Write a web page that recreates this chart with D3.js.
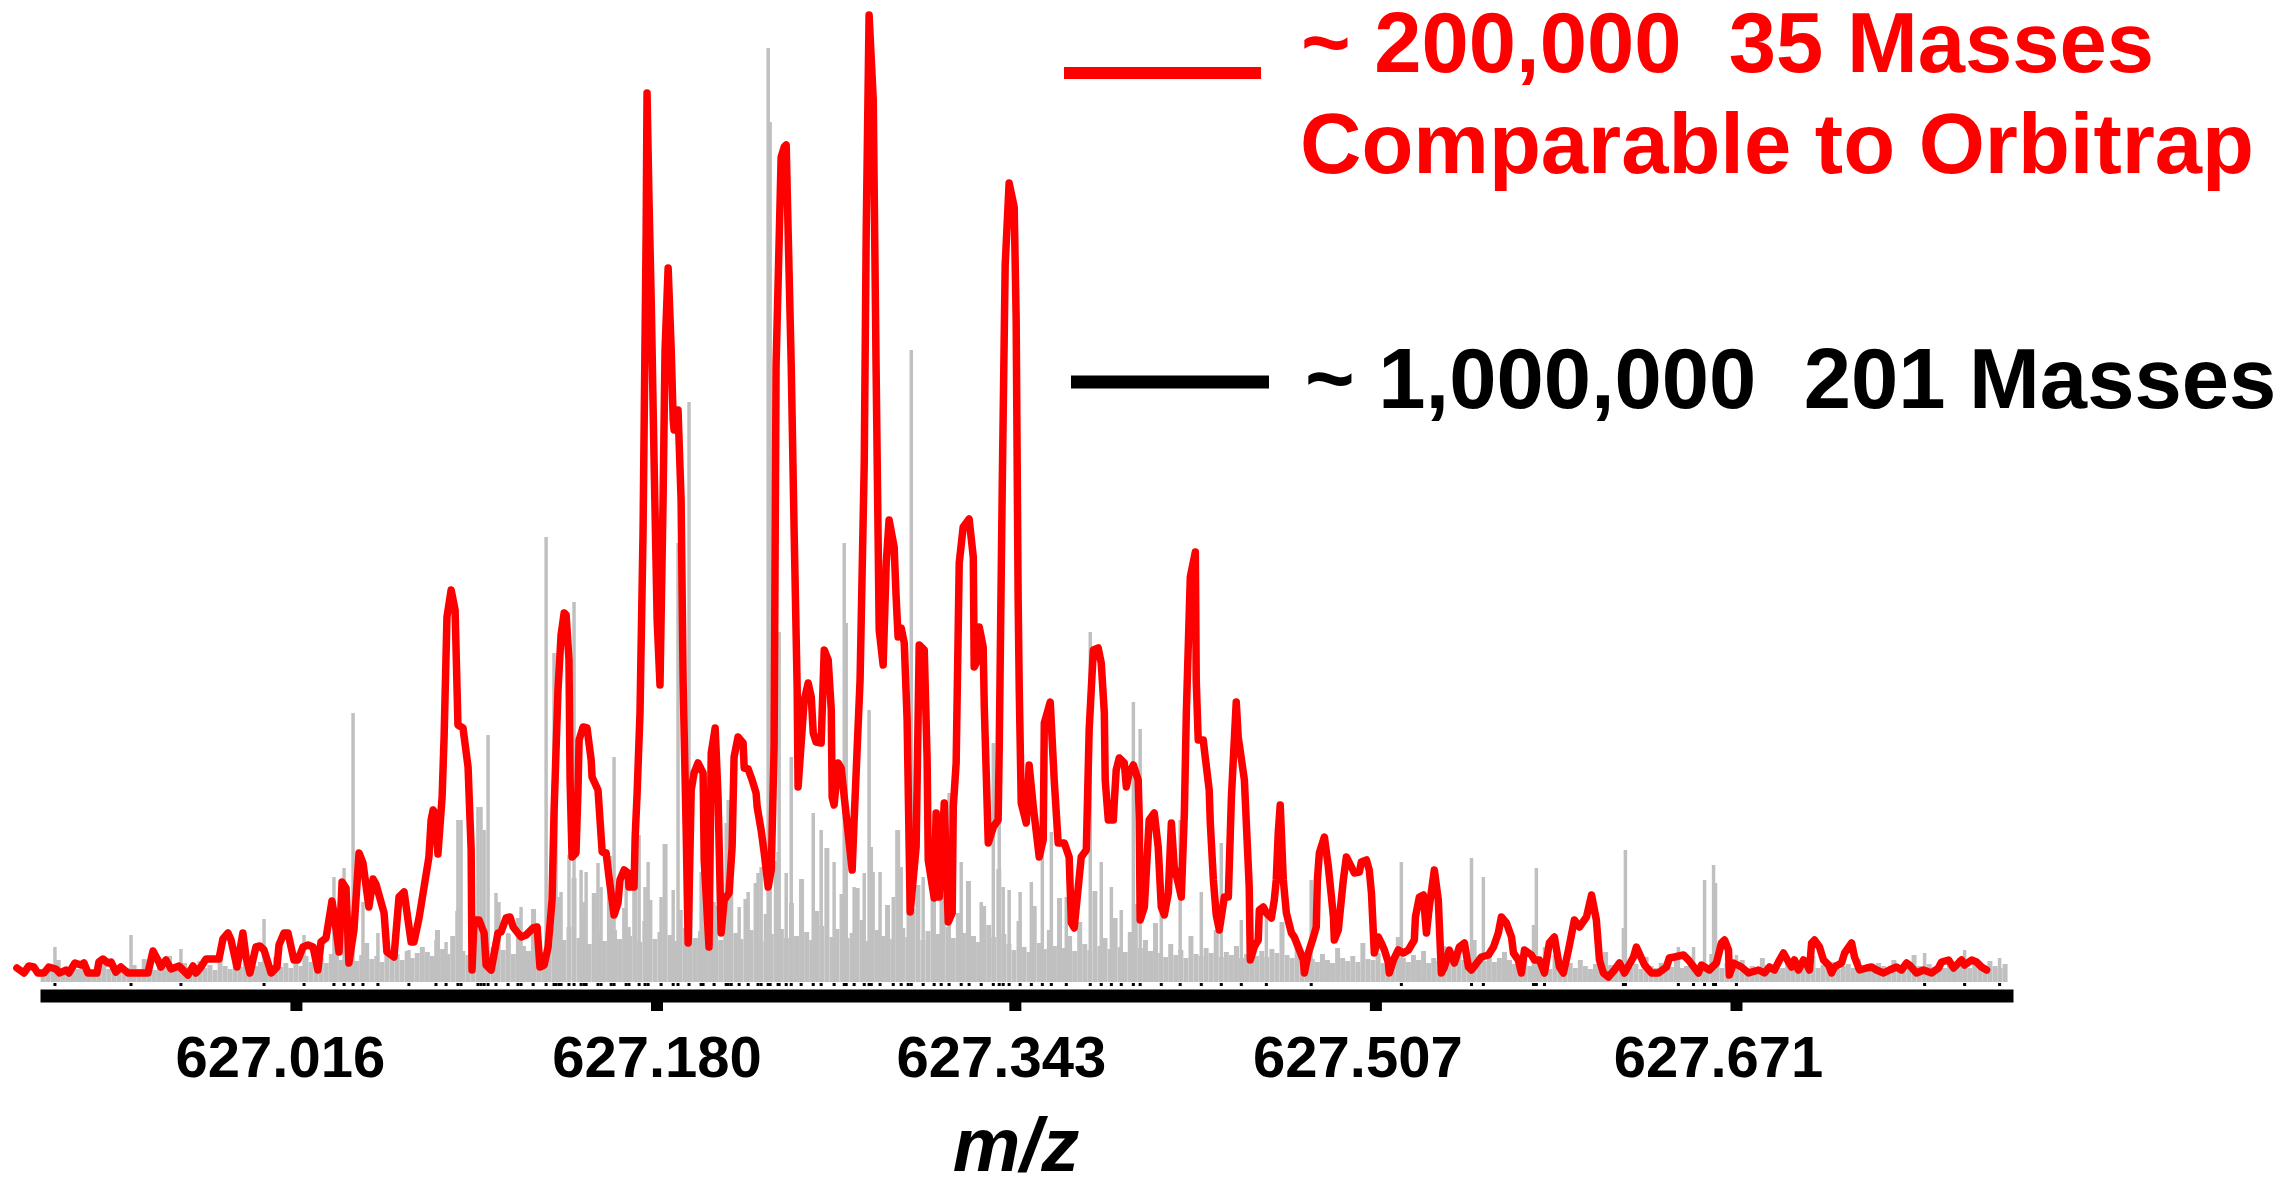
<!DOCTYPE html>
<html>
<head>
<meta charset="utf-8">
<script src="https://cdn.jsdelivr.net/npm/d3@7"></script>
<style>
  html, body { margin: 0; padding: 0; background: #fff; }
  svg { display: block; }
  text { font-family: "Liberation Sans", Arial, sans-serif; font-weight: bold; }
</style>
</head>
<body>
<svg id="chart"></svg>
<script>
// tick labels on the m/z axis
const tickValues = [627.016, 627.180, 627.343, 627.507, 627.671];

// ~200,000 resolution trace: [m/z, relative intensity]
const redTrace = [
  [626.8891,1.4],[626.8923,0.9],[626.8945,1.6],[626.8968,1.5],[626.8986,0.9],[626.9014,0.9],[626.9036,1.5],[626.9068,1.3],[626.9086,0.9],[626.9114,1.2],
  [626.9127,0.9],[626.9155,1.9],[626.9182,1.7],[626.9196,1.9],[626.9214,0.9],[626.9255,0.9],[626.9264,2.0],[626.9282,2.3],[626.9305,1.9],[626.9319,2.0],
  [626.9341,1.0],[626.9364,1.5],[626.9396,0.9],[626.9487,0.9],[626.9510,3.1],[626.9532,2.2],[626.9546,1.5],[626.9569,2.2],[626.9592,1.3],[626.9628,1.6],
  [626.9646,1.2],[626.9669,0.7],[626.9692,1.6],[626.9705,0.9],[626.9728,1.5],[626.9751,2.3],[626.9810,2.3],[626.9828,4.3],[626.9851,4.9],[626.9865,4.2],
  [626.9892,1.5],[626.9919,4.9],[626.9933,2.5],[626.9951,0.9],[626.9978,3.5],[626.9996,3.6],[627.0015,3.2],[627.0047,0.9],[627.0074,1.5],[627.0083,3.7],
  [627.0106,4.9],[627.0124,4.9],[627.0151,2.2],[627.0169,2.2],[627.0192,3.5],[627.0215,3.7],[627.0238,3.5],[627.0260,1.2],[627.0274,4.0],[627.0297,4.4],
  [627.0324,8.1],[627.0333,6.9],[627.0356,3.0],[627.0370,10.0],[627.0388,9.4],[627.0401,1.9],[627.0424,5.2],[627.0447,12.9],[627.0465,11.9],[627.0492,7.5],
  [627.0511,10.3],[627.0524,9.8],[627.0561,6.9],[627.0574,3.0],[627.0606,2.5],[627.0629,8.5],[627.0652,9.0],[627.0684,4.0],[627.0697,4.0],[627.0720,6.4],
  [627.0765,12.5],[627.0775,16.2],[627.0784,17.2],[627.0793,16.9],[627.0806,12.8],[627.0825,18.5],[627.0834,24.5],[627.0847,36.5],[627.0866,39.2],[627.0884,37.2],
  [627.0897,25.7],[627.0920,25.4],[627.0943,21.5],[627.0957,13.2],[627.0961,1.2],[627.0970,6.2],[627.0993,6.2],[627.1016,4.9],[627.1025,1.7],[627.1048,1.2],
  [627.1079,4.9],[627.1093,5.0],[627.1116,6.4],[627.1134,6.5],[627.1148,5.5],[627.1184,4.5],[627.1207,4.7],[627.1239,5.4],[627.1257,5.5],[627.1270,1.5],
  [627.1289,1.7],[627.1307,3.5],[627.1325,8.2],[627.1334,16.9],[627.1352,29.2],[627.1366,34.7],[627.1380,36.9],[627.1389,36.7],[627.1402,32.2],[627.1407,20.2],
  [627.1416,12.5],[627.1434,12.9],[627.1443,19.2],[627.1448,24.2],[627.1466,25.5],[627.1484,25.4],[627.1503,22.2],[627.1507,20.5],[627.1534,19.2],[627.1553,13.0],
  [627.1571,12.9],[627.1584,10.5],[627.1607,6.7],[627.1625,7.9],[627.1634,10.2],[627.1653,11.2],[627.1671,10.9],[627.1675,9.5],[627.1698,9.5],[627.1703,14.5],
  [627.1712,18.9],[627.1725,26.9],[627.1739,45.2],[627.1753,74.9],[627.1757,88.9],[627.1766,78.2],[627.1776,68.2],[627.1789,52.2],[627.1803,36.2],[627.1816,29.7],
  [627.1830,48.2],[627.1839,63.2],[627.1853,71.4],[627.1867,63.2],[627.1876,56.2],[627.1880,55.2],[627.1898,57.2],[627.1912,48.2],[627.1921,30.2],[627.1935,15.2],
  [627.1944,3.9],[627.1958,19.2],[627.1971,20.9],[627.1989,21.9],[627.2012,20.9],[627.2017,12.2],[627.2039,3.5],[627.2049,22.9],[627.2067,25.4],[627.2080,18.5],
  [627.2094,4.9],[627.2108,8.2],[627.2130,8.9],[627.2144,13.5],[627.2153,22.5],[627.2171,24.5],[627.2194,23.9],[627.2199,21.4],[627.2217,21.3],[627.2235,20.2],
  [627.2253,18.9],[627.2258,17.5],[627.2276,15.2],[627.2290,12.9],[627.2308,9.5],[627.2322,11.2],[627.2335,23.5],[627.2344,61.7],[627.2358,74.2],[627.2367,82.5],
  [627.2381,83.5],[627.2390,83.7],[627.2399,74.9],[627.2413,61.5],[627.2426,45.2],[627.2440,29.2],[627.2444,19.5],[627.2472,28.2],[627.2490,29.9],[627.2504,28.5],
  [627.2513,24.9],[627.2526,24.0],[627.2549,23.9],[627.2563,33.2],[627.2581,32.2],[627.2595,27.2],[627.2599,18.5],[627.2608,17.7],[627.2626,21.9],[627.2640,21.4],
  [627.2654,18.5],[627.2690,11.2],[627.2699,16.2],[627.2726,30.2],[627.2745,51.9],[627.2754,75.2],[627.2767,96.7],[627.2786,88.2],[627.2799,61.2],[627.2813,35.2],
  [627.2831,31.7],[627.2845,41.9],[627.2858,46.2],[627.2881,43.5],[627.2890,38.5],[627.2899,34.5],[627.2913,35.4],[627.2927,33.9],[627.2940,26.2],[627.2954,7.0],
  [627.2981,13.5],[627.2995,33.7],[627.3018,33.2],[627.3031,22.2],[627.3036,12.2],[627.3063,8.4],[627.3072,16.9],[627.3086,8.5],[627.3109,17.9],[627.3127,6.0],
  [627.3145,6.9],[627.3150,17.5],[627.3163,21.9],[627.3177,41.9],[627.3195,45.5],[627.3222,46.3],[627.3241,42.5],[627.3245,31.5],[627.3254,31.9],[627.3268,35.5],
  [627.3286,33.5],[627.3291,27.5],[627.3309,13.9],[627.3332,15.5],[627.3354,16.2],[627.3359,23.5],[627.3373,50.2],[627.3386,71.7],[627.3404,79.9],[627.3427,77.5],
  [627.3436,66.2],[627.3445,38.2],[627.3450,29.2],[627.3459,17.9],[627.3482,15.9],[627.3495,21.7],[627.3514,17.5],[627.3541,12.5],[627.3559,14.2],[627.3564,25.9],
  [627.3591,28.0],[627.3609,20.2],[627.3627,13.9],[627.3655,13.9],[627.3677,12.5],[627.3687,5.9],[627.3700,5.4],[627.3732,12.5],[627.3755,13.2],[627.3768,25.2],
  [627.3787,33.2],[627.3809,33.4],[627.3823,31.9],[627.3837,26.9],[627.3841,20.2],[627.3855,16.2],[627.3878,16.2],[627.3882,17.9],[627.3891,21.2],[627.3905,22.4],
  [627.3928,21.9],[627.3937,19.5],[627.3950,20.9],[627.3969,21.7],[627.3991,20.2],[627.3996,16.2],[627.4000,6.2],[627.4019,7.5],[627.4041,16.2],[627.4064,16.9],
  [627.4082,13.5],[627.4096,7.5],[627.4110,6.7],[627.4128,8.9],[627.4142,15.9],[627.4155,11.5],[627.4173,9.9],[627.4187,8.5],[627.4201,16.9],[627.4210,26.9],
  [627.4228,40.5],[627.4251,43.0],[627.4255,30.2],[627.4264,24.2],[627.4287,24.2],[627.4292,23.2],[627.4314,19.2],[627.4319,15.9],[627.4333,10.2],[627.4346,6.7],
  [627.4360,5.2],[627.4383,8.5],[627.4401,8.5],[627.4415,18.5],[627.4437,28.0],[627.4446,24.5],[627.4474,20.2],[627.4496,9.5],[627.4501,2.2],[627.4519,3.5],
  [627.4537,4.2],[627.4542,7.2],[627.4560,7.5],[627.4574,6.9],[627.4597,6.4],[627.4610,8.2],[627.4619,10.2],[627.4628,14.9],[627.4637,17.7],[627.4651,10.2],
  [627.4665,6.9],[627.4688,4.9],[627.4701,4.5],[627.4719,3.5],[627.4742,2.2],[627.4747,0.9],[627.4765,2.9],[627.4788,4.5],[627.4801,5.5],[627.4806,10.2],
  [627.4815,12.9],[627.4838,14.5],[627.4856,11.5],[627.4870,8.5],[627.4879,6.5],[627.4883,4.2],[627.4901,5.2],[627.4924,10.2],[627.4938,12.5],[627.4961,11.5],
  [627.4974,10.9],[627.4997,11.0],[627.5006,12.0],[627.5029,12.2],[627.5042,11.2],[627.5052,8.9],[627.5065,2.9],[627.5083,4.5],[627.5097,3.9],[627.5111,3.2],
  [627.5129,1.9],[627.5133,0.9],[627.5152,2.2],[627.5174,3.2],[627.5197,2.9],[627.5220,3.2],[627.5247,4.2],[627.5252,6.5],[627.5270,8.5],[627.5288,8.7],
  [627.5302,4.9],[627.5315,7.5],[627.5338,11.2],[627.5356,8.2],[627.5370,0.9],[627.5384,1.5],[627.5406,3.2],[627.5429,1.9],[627.5452,3.5],[627.5475,3.9],
  [627.5493,1.5],[627.5507,1.2],[627.5552,2.5],[627.5584,2.7],[627.5607,3.5],[627.5629,4.9],[627.5643,6.5],[627.5666,5.9],[627.5689,4.5],[627.5698,2.9],
  [627.5720,2.2],[627.5734,0.9],[627.5748,3.2],[627.5780,2.7],[627.5793,2.2],[627.5816,2.2],[627.5839,0.9],[627.5861,3.9],[627.5884,4.5],[627.5907,1.5],
  [627.5925,0.9],[627.5948,3.2],[627.5975,6.2],[627.5998,5.5],[627.6030,6.5],[627.6053,8.7],[627.6075,6.2],[627.6089,2.2],[627.6107,0.9],[627.6130,0.5],
  [627.6157,1.2],[627.6180,1.9],[627.6203,0.9],[627.6244,2.5],[627.6257,3.5],[627.6294,1.7],[627.6326,0.9],[627.6357,0.9],[627.6394,1.5],[627.6407,2.4],
  [627.6430,2.5],[627.6471,2.7],[627.6494,2.2],[627.6539,0.9],[627.6553,1.7],[627.6589,1.2],[627.6621,1.9],[627.6644,3.9],[627.6658,4.2],[627.6676,3.2],
  [627.6680,0.7],[627.6699,1.9],[627.6735,1.5],[627.6767,0.9],[627.6812,1.2],[627.6840,0.9],[627.6862,1.5],[627.6885,1.2],[627.6908,2.2],[627.6926,2.9],
  [627.6949,2.0],[627.6963,1.5],[627.6976,2.2],[627.6994,1.2],[627.7017,2.2],[627.7031,1.9],[627.7044,1.2],[627.7054,3.9],[627.7067,4.2],[627.7090,3.5],
  [627.7108,2.2],[627.7131,1.7],[627.7145,0.9],[627.7158,1.5],[627.7190,1.9],[627.7204,2.9],[627.7236,3.9],[627.7249,2.5],[627.7272,1.2],[627.7304,1.4],
  [627.7327,1.5],[627.7349,1.2],[627.7381,0.9],[627.7408,1.2],[627.7440,1.5],[627.7463,1.2],[627.7486,1.9],[627.7499,1.7],[627.7531,0.9],[627.7563,1.2],
  [627.7600,0.9],[627.7631,1.4],[627.7645,2.0],[627.7677,2.2],[627.7700,1.4],[627.7722,1.9],[627.7736,2.2],[627.7750,1.7],[627.7782,2.2],[627.7804,2.0],
  [627.7827,1.5],[627.7850,1.2]
];

// ~1,000,000 resolution trace, dense baseline sampled every 0.0023 from 626.901
const grayStart = 626.901;
const grayStep = 0.0023;
const grayFloor = [
  1.2,1.5,1.1,2.2,1.4,1.0,1.6,1.3,1.8,1.2,1.0,1.5,1.9,1.3,1.1,1.6,1.2,1.4,
  1.7,1.3,2.3,1.5,1.2,1.8,1.4,2.6,1.6,1.1,1.9,1.5,1.3,2.1,1.4,1.7,1.2,2.4,1.6,1.3,1.8,1.5,2.2,1.4,1.6,2.0,1.3,1.7,2.5,1.5,1.9,1.4,2.2,1.6,
  2.6,2.0,3.2,2.4,1.9,2.8,3.6,2.2,2.5,3.0,2.1,2.7,3.9,2.3,2.6,2.0,3.3,2.5,2.8,2.2,3.1,2.4,2.9,3.5,
  3.0,2.6,5.2,3.3,2.8,4.6,7.1,3.1,2.7,5.9,3.4,6.6,2.9,3.5,8.0,3.2,4.8,2.8,6.4,3.6,3.1,7.3,3.7,3.0,
  4.6,3.9,7.8,4.2,5.5,10.4,4.4,6.3,3.8,8.9,4.9,4.1,12.6,5.2,4.3,7.4,4.6,9.8,4.0,6.1,
  8.2,4.3,5.0,13.8,4.7,4.1,7.2,5.4,9.5,4.4,5.1,11.2,4.5,7.6,4.2,6.0,14.5,4.9,4.3,8.3,
  5.2,9.9,4.1,6.8,4.8,12.1,5.3,4.4,7.9,4.6,10.3,5.0,4.2,7.1,5.6,13.4,4.5,5.3,8.8,4.4,
  4.9,9.4,6.2,4.1,11.0,5.2,4.6,7.7,4.3,15.2,5.4,4.5,7.3,9.7,4.2,5.1,8.5,4.8,12.4,5.5,
  4.4,6.9,4.9,10.1,4.6,4.0,7.6,5.7,4.5,11.3,4.8,
  3.8,3.2,6.1,3.5,3.0,7.6,3.9,3.3,5.2,3.6,8.4,3.4,4.6,3.1,6.0,3.8,3.2,9.1,3.6,4.4,3.3,6.4,3.5,3.0,5.0,7.8,3.4,4.2,3.1,5.9,
  2.9,2.5,3.8,2.7,3.2,2.4,4.6,2.8,2.6,3.4,2.9,5.2,2.5,3.0,2.7,3.6,2.4,2.8,4.1,2.6,3.1,2.5,3.3,2.9,6.0,2.7,2.4,3.5,2.8,3.0,
  2.3,2.0,2.8,2.2,1.9,3.4,2.4,2.1,2.6,2.0,3.9,2.3,2.2,2.9,1.9,2.5,2.1,4.5,2.4,2.0,2.7,2.2,3.1,1.9,2.4,2.1,3.6,2.3,2.0,2.6,2.2,1.9,4.2,2.5,2.1,2.8,2.0,2.4,3.0,2.2,
  1.8,1.5,2.4,1.6,1.4,2.0,1.7,1.3,2.7,1.6,1.5,1.9,1.4,2.2,1.6,1.3,1.8,1.5,3.0,1.7,
  1.4,2.1,1.6,1.5,1.8,1.3,2.5,1.6,1.4,1.9,1.7,1.5,2.3,1.4,1.6,2.0,1.3,1.8,1.5,2.8,
  1.6,1.4,1.9,1.5,1.7,2.2,1.4,1.6,1.3,2.4,1.7,1.5,1.8,1.4,2.1,1.6,1.3,1.9,1.5,2.6,
  1.4,1.7,1.5,2.0,1.3,1.6,1.8,1.4,2.3,1.5,1.7,1.4,1.9,1.6,1.3,2.2,1.5,1.7,1.4,2.7,
  1.6,1.3,1.8,1.5,2.0,1.4,1.7,1.5,2.4,1.6,1.4,1.9,1.5,1.3,2.1,1.6,1.4,1.8
];

// taller sticks of the ~1,000,000 trace: [m/z, relative intensity]
const grayPeaks = [
  [626.9064,3.5],[626.9410,4.7],[626.9637,3.3],[627.0015,6.3],[627.0197,4.7],[627.0333,10.5],[627.0379,11.4],[627.0420,26.9],[627.0465,8.0],[627.0533,4.9],
  [627.0674,3.2],[627.0797,4.2],[627.0843,4.0],[627.0897,16.2],[627.0911,16.2],[627.0988,17.5],[627.1002,17.5],[627.1016,15.2],[627.1034,24.7],[627.1070,8.9],
  [627.1125,4.9],[627.1170,4.5],[627.1239,6.2],[627.1298,44.5],[627.1334,32.9],[627.1343,17.5],[627.1357,8.5],[627.1402,12.7],[627.1425,38.0],[627.1457,11.2],
  [627.1480,11.0],[627.1534,11.9],[627.1607,22.5],[627.1675,5.5],[627.1721,14.7],[627.1748,9.5],[627.1762,12.0],[627.1876,9.2],[627.1898,43.9],[627.1948,58.0],
  [627.2012,7.2],[627.2117,15.9],[627.2126,18.2],[627.2176,7.5],[627.2262,10.9],[627.2308,93.4],[627.2317,86.0],[627.2358,35.0],[627.2390,10.9],[627.2413,22.5],
  [627.2513,16.9],[627.2549,15.2],[627.2654,43.9],[627.2663,35.9],[627.2745,10.9],[627.2767,27.2],[627.2817,11.0],[627.2913,11.5],[627.2959,63.2],[627.3013,10.5],
  [627.3095,10.5],[627.3131,18.9],[627.3222,5.7],[627.3332,23.9],[627.3359,16.5],[627.3377,9.5],[627.3404,9.2],[627.3454,9.0],[627.3555,12.9],[627.3596,15.0],
  [627.3773,35.0],[627.3823,12.0],[627.3914,7.2],[627.3969,28.0],[627.4000,25.3],[627.4182,16.2],[627.4369,13.9],[627.4460,6.2],[627.4778,10.2],[627.5188,12.0],
  [627.5507,12.4],[627.5561,10.5],[627.5789,5.7],[627.5802,11.4],[627.5839,3.5],[627.6198,5.4],[627.6207,13.2],[627.6448,3.5],[627.6517,3.5],[627.6567,10.2],
  [627.6608,11.7],[627.6617,9.9],[627.6712,2.7],[627.7568,2.9],[627.7750,3.2],[627.7909,2.4],
  [627.1184,7.5],[627.1366,9.0],[627.1471,8.0],[627.1548,9.5],[627.1594,7.0],[627.1662,10.5],[627.1821,8.5],[627.2003,11.0],[627.2062,8.0],[627.2140,12.5],
  [627.2217,9.0],[627.2276,11.5],[627.2353,13.0],[627.2458,10.0],[627.2608,12.0],[627.2699,9.5],[627.2777,13.5],[627.2877,8.5],[627.2945,11.0],[627.3063,9.0],
  [627.3186,12.0],[627.3277,8.0],[627.3505,10.0],[627.3664,8.5],[627.3869,9.5],[627.4096,8.0],[627.4278,9.0],[627.4574,7.5]
];

const W = 2277, H = 1178;
const svg = d3.select('#chart').attr('width', W).attr('height', H);
svg.append('rect').attr('width', W).attr('height', H).attr('fill', '#fff');

const x = d3.scaleLinear().domain([626.8996, 627.797]).range([40, 2013]);
const y = d3.scaleLinear().domain([0, 100]).range([982, -18]);

const grayData = grayFloor.map((v, i) => [grayStart + i * grayStep, v]);

// gray baseline forest
svg.append('g')
  .selectAll('line')
  .data(grayData)
  .join('line')
  .attr('x1', d => x(d[0]))
  .attr('x2', d => x(d[0]))
  .attr('y1', y(0))
  .attr('y2', d => y(d[1]))
  .attr('stroke', '#c0c0c0')
  .attr('stroke-width', 5);

svg.append('g')
  .selectAll('line')
  .data(grayPeaks)
  .join('line')
  .attr('x1', d => x(d[0]))
  .attr('x2', d => x(d[0]))
  .attr('y1', y(0))
  .attr('y2', d => y(d[1]))
  .attr('stroke', '#c0c0c0')
  .attr('stroke-width', 3.5);

// centroid specks of the high resolution trace
svg.append('g')
  .selectAll('rect')
  .data(grayPeaks)
  .join('rect')
  .attr('x', d => x(d[0]) - 1.5)
  .attr('y', y(0) + 1)
  .attr('width', 3)
  .attr('height', 3)
  .attr('fill', '#000');

// red trace
const line = d3.line().x(d => x(d[0])).y(d => y(d[1]));
svg.append('path')
  .datum(redTrace)
  .attr('d', line)
  .attr('fill', 'none')
  .attr('stroke', '#ff0000')
  .attr('stroke-width', 7.5)
  .attr('stroke-linejoin', 'round')
  .attr('stroke-linecap', 'round');

// axis
const labelNudge = [-16, 0, -14, -18, -18];
const axis = d3.axisBottom(x)
  .tickValues(tickValues)
  .tickFormat(d3.format('.3f'))
  .tickSize(15.5)
  .tickSizeOuter(0);

const gx = svg.append('g')
  .attr('transform', 'translate(0,995.5)')
  .call(axis)
  .attr('font-family', '"Liberation Sans", Arial, sans-serif')
  .attr('font-size', 58);

gx.select('.domain').attr('stroke', '#000').attr('stroke-width', 13);
gx.selectAll('.tick line').attr('stroke', '#000').attr('stroke-width', 12);
gx.selectAll('.tick text')
  .attr('y', 81.5)
  .attr('dy', null)
  .attr('dx', (d, i) => labelNudge[i])
  .attr('fill', '#000')
  .style('font-weight', 'bold');

svg.append('text')
  .attr('x', 1016)
  .attr('y', 1171)
  .attr('text-anchor', 'middle')
  .attr('font-size', 76)
  .attr('font-style', 'italic')
  .text('m/z');

// legend
svg.append('line')
  .attr('x1', 1064).attr('x2', 1261)
  .attr('y1', 73).attr('y2', 73)
  .attr('stroke', '#ff0000')
  .attr('stroke-width', 12);

svg.append('line')
  .attr('x1', 1071).attr('x2', 1269)
  .attr('y1', 382).attr('y2', 382)
  .attr('stroke', '#000')
  .attr('stroke-width', 13);

const legendText = svg.append('g').attr('font-size', 85);

legendText.append('text').attr('x', 1301).attr('y', 72).attr('fill', '#ff0000')
  .text('~ 200,000\u00a0 35 Masses');
legendText.append('text').attr('x', 1300).attr('y', 173).attr('fill', '#ff0000')
  .text('Comparable to Orbitrap');
legendText.append('text').attr('x', 1305).attr('y', 408).attr('fill', '#000')
  .text('~ 1,000,000\u00a0 201 Masses');
</script>
</body>
</html>
